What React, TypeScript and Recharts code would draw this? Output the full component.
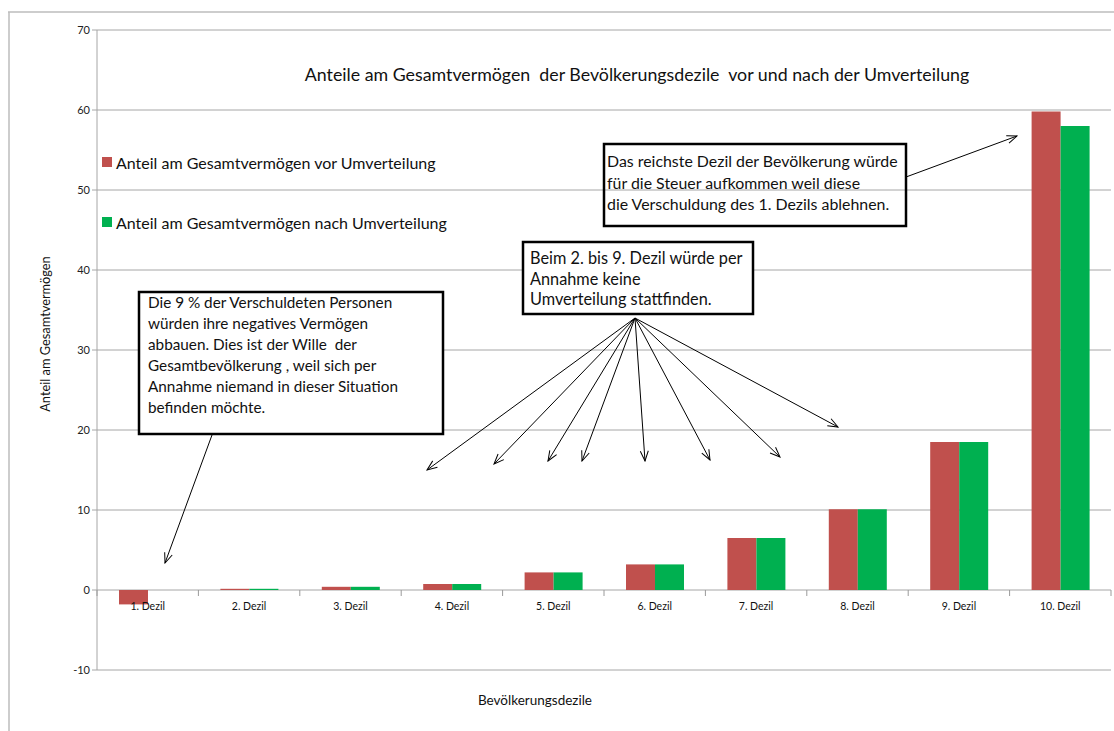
import React from 'react';
import { BarChart, Bar, XAxis, YAxis, CartesianGrid, Legend } from 'recharts';

const categories = ['1. Dezil', '2. Dezil', '3. Dezil', '4. Dezil', '5. Dezil', '6. Dezil', '7. Dezil', '8. Dezil', '9. Dezil', '10. Dezil'];
const vorUmverteilung = [-1.8, 0.15, 0.4, 0.75, 2.2, 3.2, 6.5, 10.1, 18.5, 59.8];
const nachUmverteilung = [0, 0.15, 0.4, 0.75, 2.2, 3.2, 6.5, 10.1, 18.5, 58.0];
const yTicks = [-10, 0, 10, 20, 30, 40, 50, 60, 70];

const seriesVorName = 'Anteil am Gesamtvermögen vor Umverteilung';
const seriesNachName = 'Anteil am Gesamtvermögen nach Umverteilung';
const seriesOrder = ['vor', 'nach'];
const chartTitle = 'Anteile am Gesamtvermögen  der Bevölkerungsdezile  vor und nach der Umverteilung';
const yLabel = 'Anteil am Gesamtvermögen';
const xLabel = 'Bevölkerungsdezile';

const note1 = [
  'Die 9 % der Verschuldeten Personen',
  'würden ihre negatives Vermögen',
  'abbauen. Dies ist der Wille  der',
  'Gesamtbevölkerung , weil sich per',
  'Annahme niemand in dieser Situation',
  'befinden möchte.',
];
const note2 = ['Beim 2. bis 9. Dezil würde per', 'Annahme keine', 'Umverteilung stattfinden.'];
const note3 = [
  'Das reichste Dezil der Bevölkerung würde',
  'für die Steuer aufkommen weil diese',
  'die Verschuldung des 1. Dezils ablehnen.',
];

const data = categories.map((c, i) => ({ dezil: c, vor: vorUmverteilung[i], nach: nachUmverteilung[i] }));

const RED = '#C0504D';
const GREEN = '#00B050';
const FONT = 'Lato, "Open Sans", sans-serif';

const W = 1114;
const H = 731;
const X_AXIS_H = 30;
const M = { top: 30, right: 3, bottom: 61 - X_AXIS_H, left: 0 };
const Y_AXIS_W = 97;
const plotLeft = M.left + Y_AXIS_W;
const plotRight = W - M.right;
const plotTop = M.top;
const plotBottom = H - M.bottom - X_AXIS_H;
const catW = (plotRight - plotLeft) / categories.length;
const yMin = yTicks[0];
const yMax = yTicks[yTicks.length - 1];
const zeroY = plotTop + ((yMax - 0) / (yMax - yMin)) * (plotBottom - plotTop);

const CatTick = (props: any) => {
  const { x, payload, index } = props;
  return (
    <g>
      <line x1={x - catW / 2} x2={x - catW / 2} y1={zeroY} y2={zeroY + 6} stroke="#9a9a9a" />
      {index === categories.length - 1 && (
        <line x1={x + catW / 2} x2={x + catW / 2} y1={zeroY} y2={zeroY + 6} stroke="#9a9a9a" />
      )}
      <text x={x} y={zeroY + 20} textAnchor="middle" fontSize={10.5} fill="#111" fontFamily={FONT}>
        {payload.value}
      </text>
    </g>
  );
};

const LegendContent = (props: any) => {
  const raw = props.payload || [];
  const items = seriesOrder.map((k) => raw.find((p: any) => p.dataKey === k)).filter(Boolean);
  return (
    <div style={{ fontFamily: FONT, fontSize: 16, color: '#111' }}>
      {items.map((it: any, i: number) => (
        <div key={i} style={{ display: 'flex', alignItems: 'center', height: 24, marginBottom: i === 0 ? 36 : 0 }}>
          <span style={{ display: 'inline-block', width: 10, height: 10, background: it.color, marginRight: 4 }} />
          <span>{it.value}</span>
        </div>
      ))}
    </div>
  );
};

const Note = ({ x, y, w, h, lines, fill, lineH, pad, fs, first }: any) => (
  <g>
    <rect x={x} y={y} width={w} height={h} fill={fill} stroke="#000" strokeWidth={2.5} />
    {lines.map((l: string, i: number) => (
      <text key={i} x={x + pad} y={y + first + i * lineH} dominantBaseline="middle" fontSize={fs} fill="#111" fontFamily={FONT} style={{ whiteSpace: 'pre' }}>
        {l}
      </text>
    ))}
  </g>
);

const arrows2 = [
  [427, 470],
  [494, 464],
  [548, 461],
  [582, 461],
  [645, 461],
  [710, 460],
  [780, 457],
  [838, 427],
];

export default function App() {
  return (
    <div style={{ position: 'absolute', left: 0, top: 0, width: W, height: H, background: '#fff' }}>
      <BarChart width={W} height={H} data={data} margin={M} barGap={0} barSize={29}>
        <CartesianGrid vertical={false} stroke="#a6a6a6" />
        <XAxis dataKey="dezil" height={X_AXIS_H} axisLine={false} tickLine={false} tick={<CatTick />} interval={0} />
        <YAxis
          width={Y_AXIS_W}
          domain={[yMin, yMax]}
          ticks={yTicks}
          interval={0}
          axisLine={{ stroke: '#a6a6a6' }}
          tickLine={{ stroke: '#a6a6a6' }}
          tickSize={5}
          tick={{ fontSize: 11, fill: '#222', fontFamily: FONT }}
        />
        <Legend
          layout="horizontal"
          verticalAlign="middle"
          align="center"
          wrapperStyle={{ position: 'absolute', left: 102, top: 150, width: 440 }}
          content={<LegendContent />}
        />
        <Bar dataKey="vor" name={seriesVorName} fill={RED} isAnimationActive={false} />
        <Bar dataKey="nach" name={seriesNachName} fill={GREEN} isAnimationActive={false} />
      </BarChart>
      <svg width={W} height={H} style={{ position: 'absolute', left: 0, top: 0, pointerEvents: 'none' }}>
        <defs>
          <marker id="arr" markerWidth="12" markerHeight="10" refX="11" refY="5" orient="auto" markerUnits="userSpaceOnUse">
            <path d="M1,1 L11,5 L1,9" fill="none" stroke="#000" strokeWidth={1} />
          </marker>
        </defs>
        <line x1={8} x2={W} y1={12} y2={12} stroke="#bdbdbd" strokeWidth={1.5} />
        <line x1={9} x2={9} y1={12} y2={H} stroke="#bdbdbd" strokeWidth={1.5} />
        <text x={637} y={76} textAnchor="middle" dominantBaseline="middle" fontSize={17.8} fill="#111" fontFamily={FONT} style={{ whiteSpace: 'pre' }}>
          {chartTitle}
        </text>
        <text x={47} y={334} textAnchor="middle" dominantBaseline="middle" fontSize={12.8} fill="#111" fontFamily={FONT} transform="rotate(-90 47 334)">
          {yLabel}
        </text>
        <text x={535} y={702} textAnchor="middle" dominantBaseline="middle" fontSize={13.5} fill="#111" fontFamily={FONT}>
          {xLabel}
        </text>

        <Note x={139} y={292} w={304} h={142} lines={note1} fill="#fff" lineH={21} pad={9} fs={15.3} first={12} />
        <line x1={212} y1={435} x2={165} y2={563} stroke="#000" strokeWidth={1} markerEnd="url(#arr)" />

        <Note x={523} y={242} w={230} h={72} lines={note2} fill="#fff" lineH={20.5} pad={7} fs={16.3} first={18} />
        {arrows2.map(([tx, ty], i) => (
          <line key={i} x1={635} y1={318} x2={tx} y2={ty} stroke="#000" strokeWidth={1} markerEnd="url(#arr)" />
        ))}

        <Note x={604} y={144} w={302} h={82} lines={note3} fill="none" lineH={21.5} pad={3} fs={15.9} first={19} />
        <line x1={906} y1={177} x2={1017} y2={136} stroke="#000" strokeWidth={1} markerEnd="url(#arr)" />
      </svg>
    </div>
  );
}
